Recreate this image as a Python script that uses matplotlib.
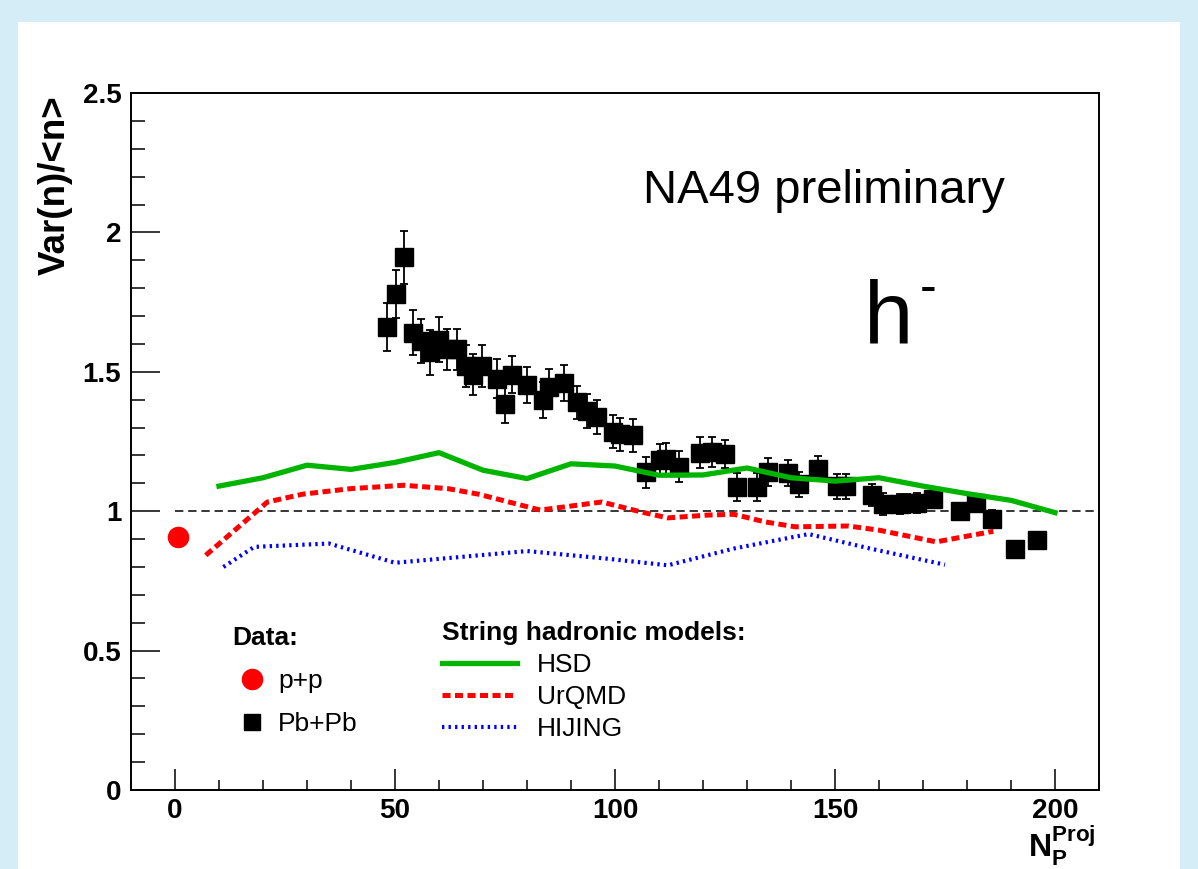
import numpy as np
import matplotlib.pyplot as plt
from matplotlib.lines import Line2D
from matplotlib.patches import Rectangle
from matplotlib.ticker import MultipleLocator, FuncFormatter

plt.rcParams['font.family'] = ['Liberation Sans', 'DejaVu Sans']
plt.rcParams['mathtext.fontset'] = 'custom'
plt.rcParams['mathtext.rm'] = 'Liberation Sans'
plt.rcParams['mathtext.bf'] = 'Liberation Sans:bold'
plt.rcParams['lines.scale_dashes'] = False

# ---------- datos
pp_x = [0.6]
pp_y = [0.907]

pb_x = [48.1, 50.2, 52.0, 54.0, 55.9, 58.0, 60.1, 61.9, 64.0, 66.1, 67.8, 69.7,
        73.1, 75.0, 76.5, 80.0, 83.6, 85.1, 88.3, 91.4, 93.6, 95.8, 99.6, 101.1,
        104.0, 107.0, 110.2, 111.6, 114.6, 119.3, 122.0, 125.0, 127.7, 132.3,
        134.8, 139.4, 141.9, 146.1, 150.4, 152.5, 158.3, 160.8, 164.8, 166.3,
        168.6, 172.3, 178.3, 182.0, 185.6, 191.0, 195.8]
pb_y = [1.66, 1.78, 1.91, 1.64, 1.61, 1.57, 1.615, 1.58, 1.58, 1.52, 1.49, 1.52,
        1.475, 1.386, 1.49, 1.452, 1.40, 1.445, 1.46, 1.39, 1.36, 1.338, 1.285, 1.276,
        1.272, 1.14, 1.185, 1.188, 1.16, 1.21, 1.212, 1.206, 1.087, 1.087,
        1.141, 1.137, 1.097, 1.153, 1.09, 1.09, 1.057, 1.025, 1.025, 1.028,
        1.03, 1.045, 1.0, 1.03, 0.973, 0.865, 0.898]
pb_err = [0.086, 0.086, 0.094, 0.08, 0.08, 0.08, 0.08, 0.075, 0.075, 0.075, 0.075, 0.075,
          0.07, 0.07, 0.065, 0.065, 0.065, 0.065, 0.065, 0.06, 0.06, 0.06, 0.06, 0.06,
          0.06, 0.055, 0.055, 0.055, 0.055, 0.055, 0.055, 0.05, 0.05, 0.05,
          0.05, 0.045, 0.045, 0.045, 0.045, 0.045, 0.04, 0.04, 0.035, 0.035,
          0.035, 0.035, 0.03, 0.03, 0.03, 0.02, 0.02]

hsd_x = [10, 20, 30, 40, 50, 60, 70, 80, 90, 100, 110, 120, 130, 140, 150, 160, 170, 180, 190, 200]
hsd_y = [1.09, 1.12, 1.165, 1.15, 1.175, 1.21, 1.147, 1.117, 1.17, 1.162, 1.129, 1.13,
         1.155, 1.12, 1.108, 1.12, 1.09, 1.063, 1.039, 0.995]

urqmd_x = [7, 21, 29, 40, 52, 62, 69, 83, 97, 106, 112, 121, 127, 134, 141, 153, 160, 173, 186]
urqmd_y = [0.842, 1.033, 1.061, 1.081, 1.093, 1.081, 1.061, 1.004, 1.033, 0.997, 0.976,
           0.986, 0.989, 0.962, 0.944, 0.947, 0.932, 0.89, 0.928]

hijing_x = [11, 18, 35, 50, 65, 80, 98, 112, 127, 144, 158, 175]
hijing_y = [0.80, 0.872, 0.884, 0.815, 0.836, 0.857, 0.83, 0.806, 0.866, 0.918, 0.866, 0.808]

ref_nivel = 1.0

W, H = 1198, 869
fig = plt.figure(figsize=(W/100, H/100), dpi=100)
fig.patch.set_facecolor('#d4edf7')
fig.patches.append(Rectangle((18/W, 0), (1180-18)/W, 847/H, transform=fig.transFigure,
                             facecolor='white', edgecolor='none', zorder=-1))

ax = fig.add_axes([131/W, 79/H, 968/W, 697/H])
ax.set_xlim(-10, 210)
ax.set_ylim(0, 2.5)

ax.hlines(ref_nivel, 0, 210, colors='black', linestyles=(0, (6, 3.5)), linewidth=1.1, zorder=2)
ax.errorbar(pb_x, pb_y, yerr=pb_err, fmt='s', color='black', ms=13, capsize=3,
            elinewidth=1.3, capthick=1.3, zorder=4)
ax.plot(pp_x, pp_y, 'o', color='red', ms=14.5, zorder=4)
ax.plot(hsd_x, hsd_y, '-', color='#00b400', lw=3.8, zorder=5)
ax.plot(urqmd_x, urqmd_y, color='red', lw=3.6, ls=(0, (5.8, 3.2)), zorder=5)
ax.plot(hijing_x, hijing_y, color='blue', lw=3.0, ls=(0, (1.7, 3.0)), zorder=5)

# ejes estilo ROOT
ax.xaxis.set_major_locator(MultipleLocator(50))
ax.xaxis.set_minor_locator(MultipleLocator(10))
ax.yaxis.set_major_locator(MultipleLocator(0.5))
ax.yaxis.set_minor_locator(MultipleLocator(0.1))
ax.yaxis.set_major_formatter(FuncFormatter(lambda v, p: '%g' % v))
ax.tick_params(axis='x', which='major', direction='in', length=15, width=1.1, pad=6, labelsize=20)
ax.tick_params(axis='x', which='minor', direction='in', length=7.5, width=1.1)
ax.tick_params(axis='y', which='major', direction='in', length=21, width=1.1, pad=7, labelsize=20)
ax.tick_params(axis='y', which='minor', direction='in', length=10, width=1.1)
for lab in ax.get_xticklabels() + ax.get_yticklabels():
    lab.set_fontweight('bold')
for sp in ax.spines.values():
    sp.set_linewidth(1.4)

fig.text(55/W, 1 - 95/H, 'Var(n)/<n>', rotation=90, ha='center', va='top',
         fontsize=26.5, fontweight='bold')
fig.text(1096/W, 0.5/H, r'$\mathbf{N}_{\mathbf{P}}^{\mathbf{Proj}}$', ha='right', va='bottom',
         fontsize=23)

ax.text(106.4, 2.107, 'NA49 preliminary', fontsize=34, va='baseline')
ax.text(156.6, 1.602, 'h', fontsize=64, va='baseline')
ax.annotate('-', xy=(156.6, 1.602), xytext=(40, 30), textcoords='offset points',
            fontsize=36, va='baseline')

# leyendas
h_data = [Line2D([], [], marker='o', color='red', ls='none', ms=14.5),
          Line2D([], [], marker='s', color='black', ls='none', ms=12)]
leg1 = ax.legend(h_data, ['p+p', 'Pb+Pb'], title='Data:', loc='upper left',
                 bbox_to_anchor=(232/W, 1 - 626/H), bbox_transform=fig.transFigure,
                 frameon=False, fontsize=19, title_fontproperties={'weight': 'bold', 'size': 19},
                 alignment='left', borderpad=0, borderaxespad=0, handlelength=1.5,
                 handletextpad=0.24, labelspacing=0.72)
ax.add_artist(leg1)

h_mod = [Line2D([], [], color='#00b400', lw=3.8),
         Line2D([], [], color='red', lw=3.6, ls=(0, (5.8, 3.2))),
         Line2D([], [], color='blue', lw=3.0, ls=(0, (1.7, 3.0)))]
leg2 = ax.legend(h_mod, ['HSD', 'UrQMD', 'HIJING'], title='String hadronic models:',
                 loc='upper left', bbox_to_anchor=(442/W, 1 - 621/H),
                 bbox_transform=fig.transFigure, frameon=False, fontsize=19,
                 title_fontproperties={'weight': 'bold', 'size': 19}, alignment='left',
                 borderpad=0, borderaxespad=0, handlelength=2.84, handletextpad=0.75,
                 labelspacing=0.3)

fig.savefig('out.png', dpi=100, facecolor=fig.get_facecolor())
